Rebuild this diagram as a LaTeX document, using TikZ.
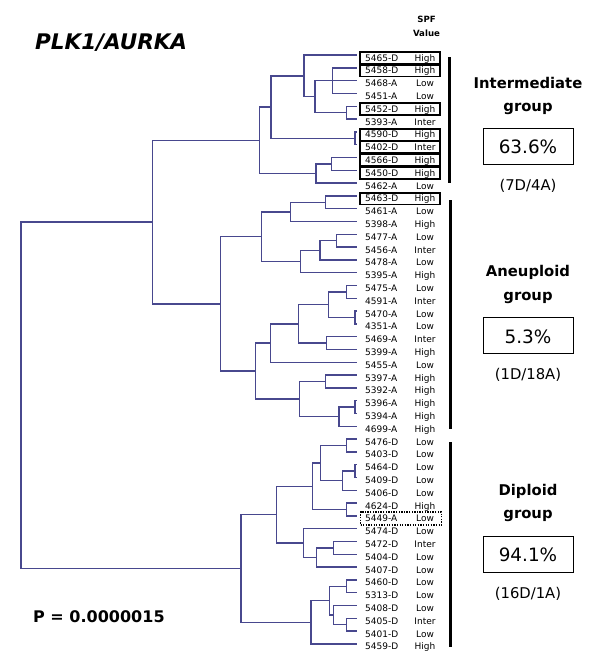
\documentclass[tikz,border=0pt]{standalone}
\usepackage{fontspec}
\setmainfont{DejaVu Sans}
\definecolor{treeblue}{RGB}{72,72,142}
\newcommand\rowy[1]{55.1+12.8*(#1)}
\begin{document}
\begin{tikzpicture}[x=1pt,y=-1pt,
  branch/.style={draw=treeblue, line width=1.35pt},
  leafname/.style={anchor=base west, inner sep=0pt, font=\fontsize{9}{10}\selectfont},
  leafval/.style={anchor=base, inner sep=0pt, font=\fontsize{9}{10}\selectfont},
  leafbox/.style={draw=black, line width=1.6pt, minimum width=80pt, minimum height=11.6pt, inner sep=0pt},
  groupbar/.style={draw=black, line width=3pt},
  grouplabel/.style={anchor=base, inner sep=0pt, font=\bfseries\fontsize{14.8}{17}\selectfont},
  pctbox/.style={draw=black, line width=1pt, minimum width=90pt, minimum height=36pt, inner sep=0pt},
  pcttext/.style={anchor=base, inner sep=0pt, font=\fontsize{18.4}{21}\selectfont},
  counttext/.style={anchor=base, inner sep=0pt, font=\fontsize{14.8}{17}\selectfont}
]
\useasboundingbox (0,0) rectangle (600,662);

% title and header
\node[anchor=base west, inner sep=0pt, font=\bfseries\itshape\fontsize{21.5}{24}\selectfont] (title) at (35,49.3) {PLK1/AURKA};
\node[anchor=base, inner sep=0pt, font=\bfseries\fontsize{8.6}{10}\selectfont] (spf) at (426.5,22.5) {SPF};
\node[anchor=base, inner sep=0pt, font=\bfseries\fontsize{8.6}{10}\selectfont] (value) at (426.5,36.5) {Value};
\node[anchor=base west, inner sep=0pt, font=\bfseries\fontsize{16}{19}\selectfont] (pval) at (33,622.5) {P = 0.0000015};

% leaves
\foreach \i in {0,...,46} { \coordinate (l\i) at (357,{\rowy{\i}}); }
\foreach \i in {0,1,4,6,7,8,9,11} { \node[leafbox] (box\i) at (400,{\rowy{\i}+2.6}) {}; }
\node[leafbox, line width=1.6pt, dash pattern=on 1.3pt off 1.3pt, minimum width=81pt, minimum height=12.6pt] (box36) at (401,{\rowy{36}+2.6}) {};
\foreach \i/\n/\v in {0/5465-D/High,1/5458-D/High,2/5468-A/Low,3/5451-A/Low,4/5452-D/High,
  5/5393-A/Inter,6/4590-D/High,7/5402-D/Inter,8/4566-D/High,9/5450-D/High,10/5462-A/Low,
  11/5463-D/High,12/5461-A/Low,13/5398-A/High,14/5477-A/Low,15/5456-A/Inter,16/5478-A/Low,
  17/5395-A/High,18/5475-A/Low,19/4591-A/Inter,20/5470-A/Low,21/4351-A/Low,22/5469-A/Inter,
  23/5399-A/High,24/5455-A/Low,25/5397-A/High,26/5392-A/High,27/5396-A/High,28/5394-A/High,
  29/4699-A/High,30/5476-D/Low,31/5403-D/Low,32/5464-D/Low,33/5409-D/Low,34/5406-D/Low,
  35/4624-D/High,36/5449-A/Low,37/5474-D/Low,38/5472-D/Inter,39/5404-D/Low,40/5407-D/Low,
  41/5460-D/Low,42/5313-D/Low,43/5408-D/Low,44/5405-D/Inter,45/5401-D/Low,46/5459-D/High} {
  \node[leafname] (name\i) at (365,{\rowy{\i}+6}) {\n};
  \node[leafval] (val\i) at (425,{\rowy{\i}+6}) {\v};
}

% cluster A
\coordinate (a1) at (332.7,{\rowy{2}});
\coordinate (a2) at (346.7,{\rowy{4.5}});
\coordinate (a3) at (315,{\rowy{3.25}});
\coordinate (a4) at (304,{\rowy{1.625}});
\coordinate (a5) at (355,{\rowy{6.5}});
\coordinate (a6) at (271,{\rowy{4.0625}});
\coordinate (a7) at (331.7,{\rowy{8.5}});
\coordinate (a8) at (316,{\rowy{9.25}});
\coordinate (a9) at (259.5,{\rowy{6.65625}});
\draw[branch] (a1) |- (l1) (a1) |- (l2) (a1) |- (l3)
  (a2) |- (l4) (a2) |- (l5)
  (a3) |- (a1) (a3) |- (a2)
  (a4) |- (l0) (a4) |- (a3)
  (a5) |- (l6) (a5) |- (l7)
  (a6) |- (a4) (a6) |- (a5)
  (a7) |- (l8) (a7) |- (l9)
  (a8) |- (a7) (a8) |- (l10)
  (a9) |- (a6) (a9) |- (a8);

% cluster B
\coordinate (b1) at (325.7,{\rowy{11.5}});
\coordinate (b2) at (290.7,{\rowy{12.25}});
\coordinate (b3) at (336.7,{\rowy{14.5}});
\coordinate (b4) at (320,{\rowy{15.25}});
\coordinate (b5) at (300.7,{\rowy{16.125}});
\coordinate (b6) at (261.7,{\rowy{14.1875}});
\coordinate (b7) at (346.7,{\rowy{18.5}});
\coordinate (b8) at (355,{\rowy{20.5}});
\coordinate (b9) at (328.3,{\rowy{19.5}});
\coordinate (b10) at (326.7,{\rowy{22.5}});
\coordinate (b11) at (298.3,{\rowy{21}});
\coordinate (b12) at (270.7,{\rowy{22.5}});
\coordinate (b13) at (325.7,{\rowy{25.5}});
\coordinate (b14) at (355,{\rowy{27.5}});
\coordinate (b15) at (339,{\rowy{28.25}});
\coordinate (b16) at (299.3,{\rowy{26.875}});
\coordinate (b17) at (255.7,{\rowy{24.6875}});
\coordinate (b18) at (220.5,{\rowy{19.4375}});
\draw[branch] (b1) |- (l11) (b1) |- (l12)
  (b2) |- (b1) (b2) |- (l13)
  (b3) |- (l14) (b3) |- (l15)
  (b4) |- (b3) (b4) |- (l16)
  (b5) |- (b4) (b5) |- (l17)
  (b6) |- (b2) (b6) |- (b5)
  (b7) |- (l18) (b7) |- (l19)
  (b8) |- (l20) (b8) |- (l21)
  (b9) |- (b7) (b9) |- (b8)
  (b10) |- (l22) (b10) |- (l23)
  (b11) |- (b9) (b11) |- (b10)
  (b12) |- (b11) (b12) |- (l24)
  (b13) |- (l25) (b13) |- (l26)
  (b14) |- (l27) (b14) |- (l28)
  (b15) |- (b14) (b15) |- (l29)
  (b16) |- (b13) (b16) |- (b15)
  (b17) |- (b12) (b17) |- (b16)
  (b18) |- (b6) (b18) |- (b17);

% cluster C
\coordinate (c1) at (346.7,{\rowy{30.5}});
\coordinate (c2) at (355,{\rowy{32.5}});
\coordinate (c3) at (342.7,{\rowy{33.25}});
\coordinate (c4) at (320.7,{\rowy{31.875}});
\coordinate (c5) at (346.7,{\rowy{35.5}});
\coordinate (c6) at (312.7,{\rowy{33.6875}});
\coordinate (c7) at (333.3,{\rowy{38.5}});
\coordinate (c8) at (316.7,{\rowy{39.25}});
\coordinate (c9) at (303.3,{\rowy{38.125}});
\coordinate (c10) at (276.7,{\rowy{35.90625}});
\coordinate (c11) at (346.7,{\rowy{41.5}});
\coordinate (c12) at (346.7,{\rowy{44.5}});
\coordinate (c13) at (333.3,{\rowy{43.75}});
\coordinate (c14) at (329.3,{\rowy{42.625}});
\coordinate (c15) at (311,{\rowy{44.3125}});
\coordinate (c16) at (241,{\rowy{40.109375}});
\draw[branch] (c1) |- (l30) (c1) |- (l31)
  (c2) |- (l32) (c2) |- (l33)
  (c3) |- (c2) (c3) |- (l34)
  (c4) |- (c1) (c4) |- (c3)
  (c5) |- (l35) (c5) |- (l36)
  (c6) |- (c4) (c6) |- (c5)
  (c7) |- (l38) (c7) |- (l39)
  (c8) |- (c7) (c8) |- (l40)
  (c9) |- (l37) (c9) |- (c8)
  (c10) |- (c6) (c10) |- (c9)
  (c11) |- (l41) (c11) |- (l42)
  (c12) |- (l44) (c12) |- (l45)
  (c13) |- (l43) (c13) |- (c12)
  (c14) |- (c11) (c14) |- (c13)
  (c15) |- (c14) (c15) |- (l46)
  (c16) |- (c10) (c16) |- (c15);

% top levels
\coordinate (ab) at (152.5,{\rowy{13.046875}});
\coordinate (root) at (21,{\rowy{26.578}});
\draw[branch] (ab) |- (a9) (ab) |- (b18) (root) |- (ab) (root) |- (c16);

% group bars
\coordinate (gi1) at (449,57); \coordinate (gi2) at (449,183);
\coordinate (ga1) at (450,200); \coordinate (ga2) at (450,429);
\coordinate (gd1) at (450.5,442); \coordinate (gd2) at (450.5,647);
\draw[groupbar] (gi1) -- (gi2) (ga1) -- (ga2) (gd1) -- (gd2);

% group labels
\node[grouplabel] (ilab) at (528,88.3) {Intermediate};
\node[grouplabel] (igrp) at (528,111.6) {group};
\node[pctbox] (ibox) at (528,146.3) {};
\node[pcttext] (ipct) at (528,153.8) {63.6\%};
\node[counttext] (icnt) at (528,190.8) {(7D/4A)};

\node[grouplabel] (alab) at (528,276.7) {Aneuploid};
\node[grouplabel] (agrp) at (528,300) {group};
\node[pctbox] (abox) at (528,335) {};
\node[pcttext] (apct) at (528,343.3) {5.3\%};
\node[counttext] (acnt) at (528,379.8) {(1D/18A)};

\node[grouplabel] (dlab) at (528,495) {Diploid};
\node[grouplabel] (dgrp) at (528,518.3) {group};
\node[pctbox] (dbox) at (528,554) {};
\node[pcttext] (dpct) at (528,561.7) {94.1\%};
\node[counttext] (dcnt) at (528,598.3) {(16D/1A)};
\end{tikzpicture}
\end{document}
